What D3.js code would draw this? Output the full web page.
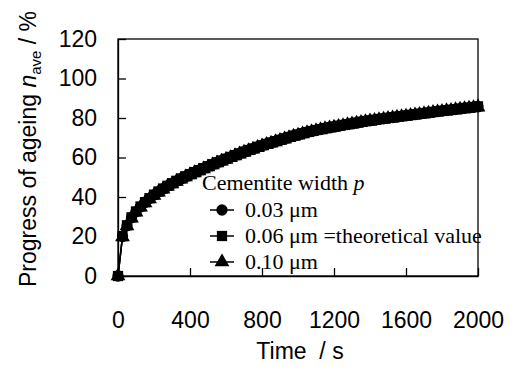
<!DOCTYPE html>
<html><head><meta charset="utf-8">
<script src="https://cdn.jsdelivr.net/npm/d3@7"></script>
<style>body{margin:0;background:#fff}svg{display:block}</style>
</head><body>
<svg id="c" width="516" height="370"></svg>
<script>
const times = [0,25,50,75,100,125,150,175,200,225,250,275,300,325,350,375,400,425,450,475,500,525,550,575,600,625,650,675,700,725,750,775,800,825,850,875,900,925,950,975,1000,1025,1050,1075,1100,1125,1150,1175,1200,1225,1250,1275,1300,1325,1350,1375,1400,1425,1450,1475,1500,1525,1550,1575,1600,1625,1650,1675,1700,1725,1750,1775,1800,1825,1850,1875,1900,1925,1950,1975,2000];
const p003 = [0,20,25.5,29.5,32.5,35,37.2,39.2,41,42.6,44.1,45.5,46.8,48,49.2,50.3,51.4,52.4,53.4,54.4,55.4,56.4,57.4,58.3,59.2,60.1,61,61.9,62.8,63.6,64.4,65.2,66,66.7,67.4,68.1,68.8,69.5,70.2,70.9,71.5,72.1,72.7,73.2,73.7,74.2,74.7,75.1,75.5,75.9,76.3,76.7,77.1,77.5,77.9,78.3,78.6,78.9,79.3,79.6,79.9,80.2,80.5,80.8,81.1,81.4,81.7,82,82.3,82.6,82.9,83.2,83.5,83.8,84,84.3,84.6,84.9,85.1,85.4,85.7];
const p006 = [0,20.2,25.7,29.7,32.7,35.2,37.4,39.4,41.2,42.8,44.3,45.7,47,48.2,49.4,50.5,51.6,52.6,53.6,54.6,55.6,56.6,57.6,58.5,59.4,60.3,61.2,62.1,63,63.8,64.6,65.4,66.2,66.9,67.6,68.3,69,69.7,70.4,71.1,71.7,72.3,72.9,73.4,73.9,74.4,74.9,75.3,75.7,76.1,76.5,76.9,77.3,77.7,78.1,78.5,78.8,79.1,79.5,79.8,80.1,80.4,80.7,81,81.3,81.6,81.9,82.2,82.5,82.8,83.1,83.4,83.7,84,84.2,84.5,84.8,85.1,85.3,85.6,85.9];
const p010 = [0,19.8,25.3,29.3,32.3,34.8,37,39,40.8,42.4,43.9,45.3,46.6,47.8,49,50.1,51.2,52.2,53.2,54.2,55.2,56.2,57.2,58.1,59,59.9,60.8,61.7,62.6,63.4,64.2,65,65.8,66.5,67.2,67.9,68.6,69.3,70,70.7,71.3,71.9,72.5,73,73.5,74,74.5,74.9,75.3,75.7,76.1,76.5,76.9,77.3,77.7,78.1,78.4,78.7,79.1,79.4,79.7,80,80.3,80.6,80.9,81.2,81.5,81.8,82.1,82.4,82.7,83,83.3,83.6,83.8,84.1,84.4,84.7,84.9,85.2,85.5];
const xTicks = [0,400,800,1200,1600,2000];
const yTicks = [0,20,40,60,80,100,120];
const seriesNames = ["0.03 \u03bcm","0.06 \u03bcm =theoretical value","0.10 \u03bcm"];
const seriesShapes = ["circle","square","triangle"];
const seriesData = [p003,p006,p010];

const svg = d3.select("#c");
const L=118,R=478,T=39,B=276;
const x = d3.scaleLinear().domain([0,2000]).range([L,R]);
const y = d3.scaleLinear().domain([0,120]).range([B,T]);

svg.append("rect").attr("x",L).attr("y",T).attr("width",R-L).attr("height",B-T)
  .attr("fill","none").attr("stroke","#000").attr("stroke-width",1.3);

const axFont = "Liberation Sans, Arial, sans-serif";
const gx = svg.append("g").attr("transform",`translate(0,${B})`)
  .call(d3.axisBottom(x).tickValues(xTicks).tickSizeInner(-8).tickSizeOuter(0).tickPadding(36).tickFormat(d3.format("d")));
const gy = svg.append("g").attr("transform",`translate(${L},0)`)
  .call(d3.axisLeft(y).tickValues(yTicks).tickSizeInner(-8).tickSizeOuter(0).tickPadding(21).tickFormat(d3.format("d")));
[gx,gy].forEach(g=>{
  g.select(".domain").attr("stroke","#000").attr("stroke-width",1.3);
  g.selectAll(".tick line").attr("stroke","#000").attr("stroke-width",1.3);
  g.selectAll(".tick text").attr("font-family",axFont).attr("font-size",23).attr("fill","#000");
});

const sym = {
  circle: d3.symbol().type(d3.symbolCircle).size(100),
  square: d3.symbol().type(d3.symbolSquare).size(105),
  triangle: d3.symbol().type(d3.symbolTriangle).size(95)
};
const line = d3.line().x(d=>x(d[0])).y(d=>y(d[1]));
seriesData.forEach((vals,i)=>{
  const pts = times.map((t,j)=>[t,vals[j]]);
  const g = svg.append("g");
  g.append("path").attr("d",line(pts)).attr("fill","none").attr("stroke","#000").attr("stroke-width",1.5);
  g.selectAll("path.m").data(pts).enter().append("path").attr("class","m")
    .attr("d",sym[seriesShapes[i]]())
    .attr("transform",d=>`translate(${x(d[0])},${y(d[1])})`)
    .attr("fill","#000");
});

const lgFont = "Liberation Serif, 'Times New Roman', serif";
const lt = svg.append("text").attr("x",202).attr("y",190).attr("font-family",lgFont).attr("font-size",22);
lt.append("tspan").text("Cementite width ");
lt.append("tspan").attr("font-style","italic").text("p");
seriesNames.forEach((nm,i)=>{
  const cy = 210 + i*26;
  svg.append("line").attr("x1",210).attr("x2",234).attr("y1",cy).attr("y2",cy).attr("stroke","#000").attr("stroke-width",1.5);
  svg.append("path").attr("d",sym[seriesShapes[i]]()).attr("transform",`translate(222,${cy})`).attr("fill","#000");
  svg.append("text").attr("x",245).attr("y",cy+7).attr("font-family",lgFont).attr("font-size",22).text(nm);
});

svg.append("text").attr("x",300).attr("y",359).attr("text-anchor","middle")
  .attr("font-family",axFont).attr("font-size",23).attr("xml:space","preserve").text("Time  / s");
const yt = svg.append("text").attr("transform","translate(36,149) rotate(-90)").attr("text-anchor","middle")
  .attr("font-family",axFont).attr("font-size",23);
yt.append("tspan").text("Progress of ageing ");
yt.append("tspan").attr("font-style","italic").text("n");
yt.append("tspan").attr("font-size",15).attr("dy",5).text("ave");
yt.append("tspan").attr("dy",-5).attr("xml:space","preserve").text(" / %");
</script>
</body></html>
